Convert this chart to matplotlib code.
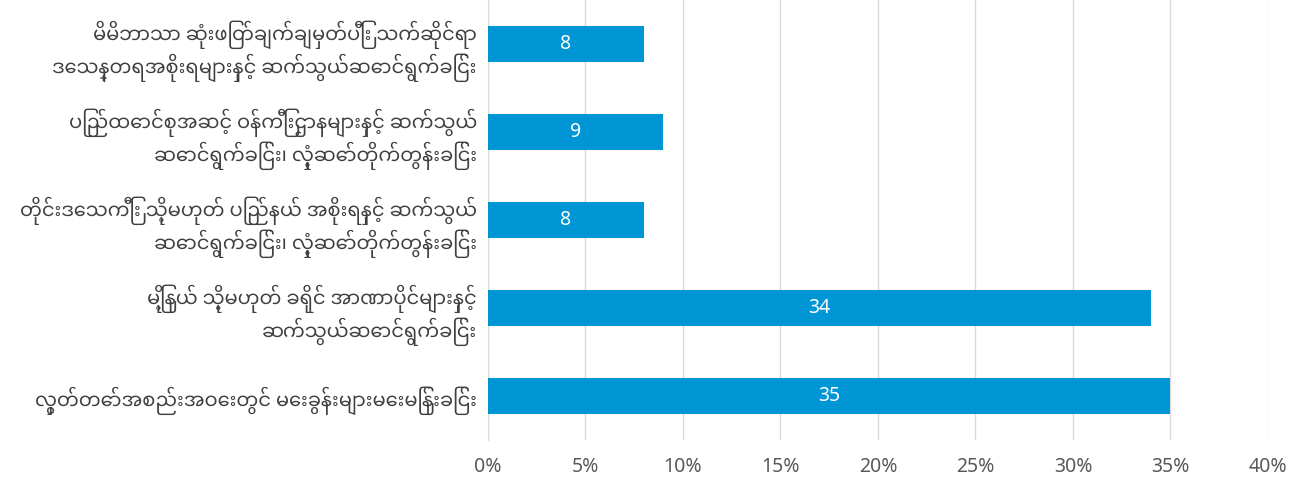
import matplotlib
matplotlib.use("Agg")
import matplotlib.pyplot as plt
from matplotlib import font_manager as fm

# pick a font that has Myanmar glyphs
names = sorted(set(f.name for f in fm.fontManager.ttflist))
mm = [n for n in names if "Myanmar" in n or "Padauk" in n or "Pyidaungsu" in n]
pref = [n for n in ["Noto Sans Myanmar", "Padauk"] if n in mm] + mm
plt.rcParams['font.family'] = pref[:1] + ['Noto Sans', 'DejaVu Sans']

categories = [
    "မိမိဘာသာ ဆုံးဖြတ်ချက်ချမှတ်ပြီး သက်ဆိုင်ရာ\nဒေသန္တရအစိုးရများနှင့် ဆက်သွယ်ဆောင်ရွက်ခြင်း",
    "ပြည်ထောင်စုအဆင့် ဝန်ကြီးဌာနများနှင့် ဆက်သွယ်\nဆောင်ရွက်ခြင်း၊ လှုံ့ဆော်တိုက်တွန်းခြင်း",
    "တိုင်းဒေသကြီး သို့မဟုတ် ပြည်နယ် အစိုးရနှင့် ဆက်သွယ်\nဆောင်ရွက်ခြင်း၊ လှုံ့ဆော်တိုက်တွန်းခြင်း",
    "မြို့နယ် သို့မဟုတ် ခရိုင် အာဏာပိုင်များနှင့်\nဆက်သွယ်ဆောင်ရွက်ခြင်း",
    "လွှတ်တော်အစည်းအဝေးတွင် မေးခွန်းများမေးမြန်းခြင်း",
]
values = [8, 9, 8, 34, 35]
xticks = [0, 5, 10, 15, 20, 25, 30, 35, 40]

fig = plt.figure(figsize=(13.03, 4.78), dpi=100)
ax = fig.add_axes([0.3745, 0.0795, 0.5986, 0.9205])

pos = list(range(len(categories)))
bars = ax.barh(pos, values, height=0.42, color='#0096d6', zorder=3)
for p, v in zip(pos, values):
    ax.text(v / 2, p, str(v), ha='center', va='center', color='white', fontsize=14, zorder=4)

ax.set_ylim(len(categories) - 0.5, -0.5)
ax.set_yticks(pos)
ax.set_yticklabels(categories, fontsize=14, color='#404040', linespacing=1.25)
ax.set_xlim(0, 40)
ax.set_xticks(xticks)
ax.set_xticklabels([f"{t}%" for t in xticks], fontsize=14, color='#595959')
ax.tick_params(axis='both', length=0)
ax.tick_params(axis='x', pad=12)
ax.tick_params(axis='y', pad=8)
ax.grid(axis='x', color='#d9d9d9', linewidth=1, zorder=0)
for s in ['top', 'right', 'bottom']:
    ax.spines[s].set_visible(False)
ax.spines['left'].set_color('#d9d9d9')

fig.savefig("out.png")
